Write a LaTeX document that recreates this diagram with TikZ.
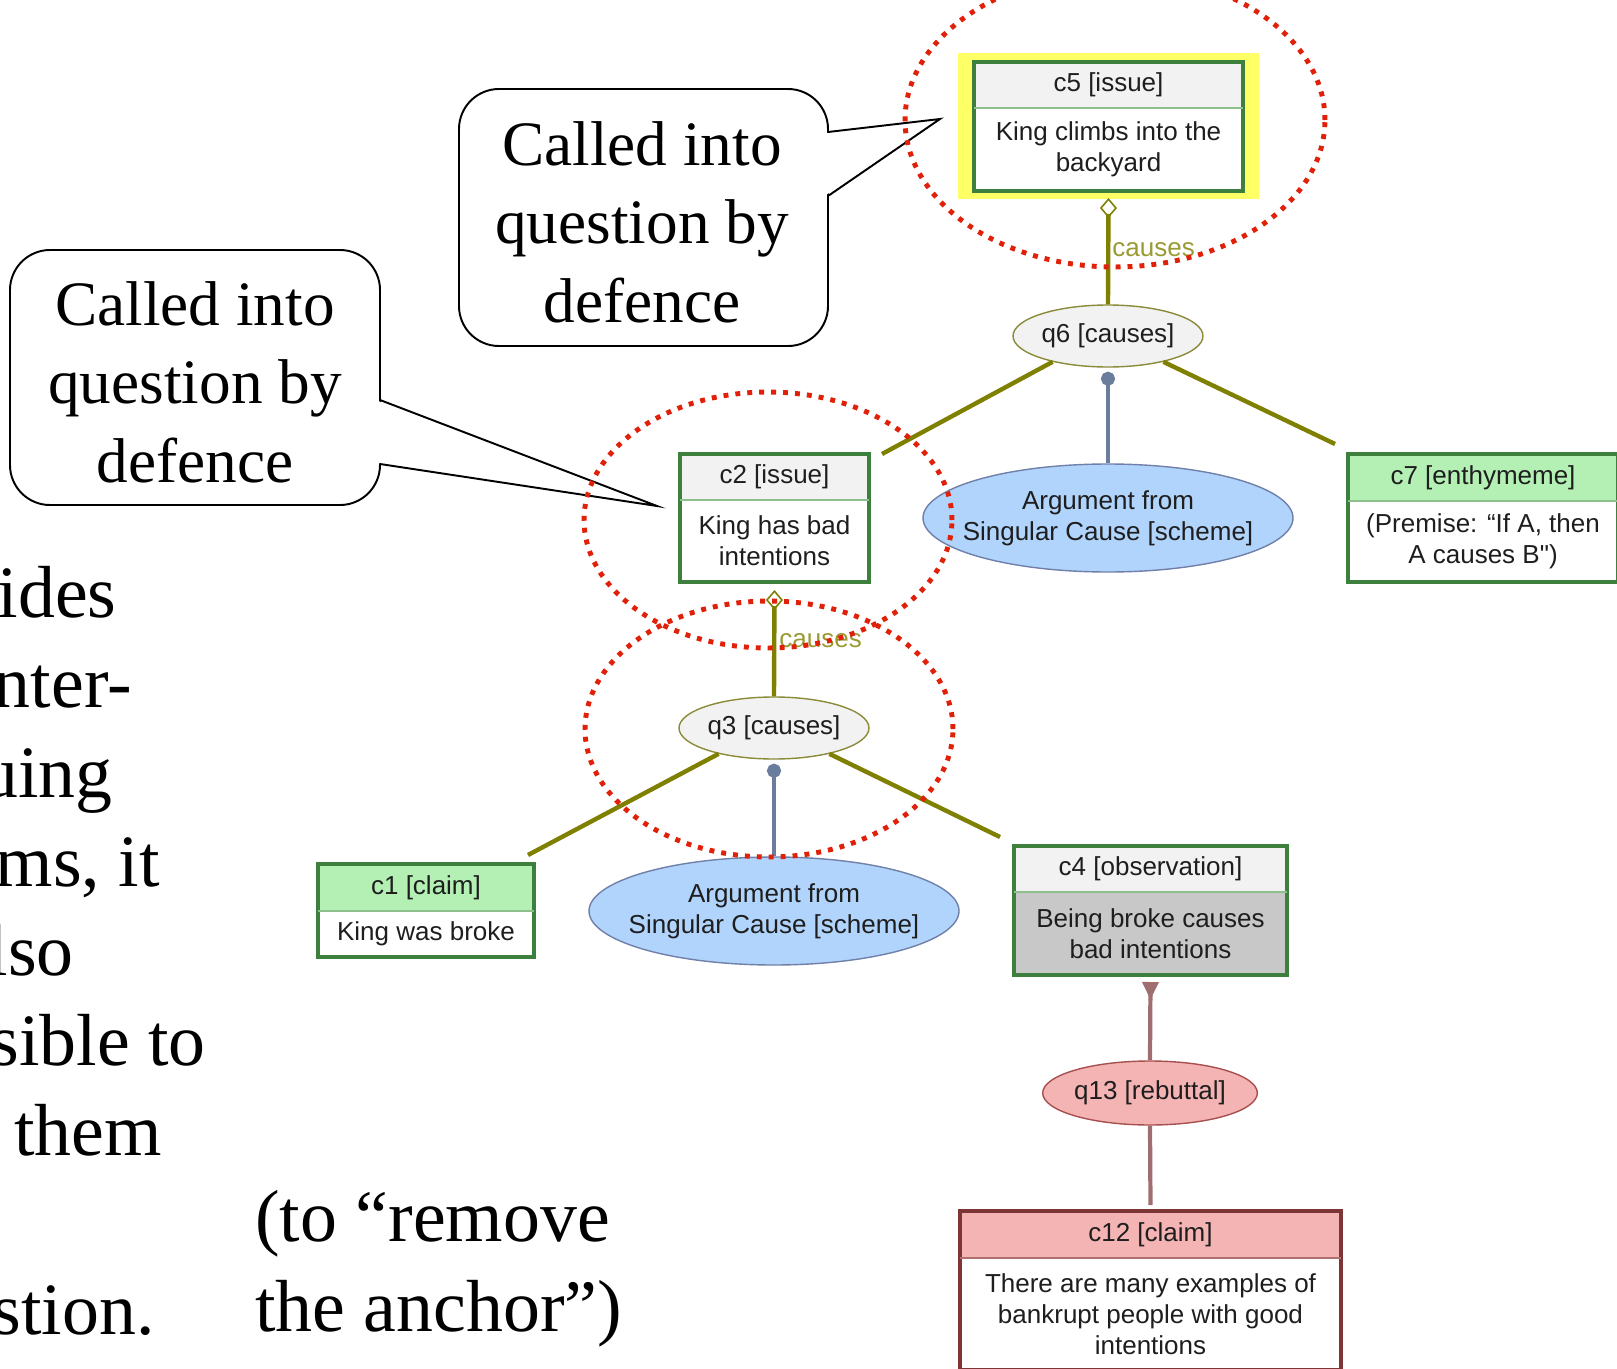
\documentclass[tikz,border=0pt]{standalone}
\usepackage{fontspec}
\setmainfont{Liberation Serif}
\newfontfamily\diagfont{Liberation Sans}
\usetikzlibrary{shapes.geometric,arrows.meta,calc,fit,backgrounds}

\definecolor{olivec}{HTML}{7F7F00}
\definecolor{causec}{HTML}{9A9A33}
\definecolor{framegreen}{HTML}{3D7F3D}
\definecolor{divgreen}{HTML}{8CBF8C}
\definecolor{hdrgray}{HTML}{F2F2F2}
\definecolor{bodygray}{HTML}{C8C8C8}
\definecolor{claimgreen}{HTML}{B4F0B4}
\definecolor{qedge}{HTML}{8B8B3A}
\definecolor{schemeblue}{HTML}{B0D4FC}
\definecolor{schemeline}{HTML}{7080A8}
\definecolor{linkblue}{HTML}{6A7D9C}
\definecolor{rebfill}{HTML}{F4B4B4}
\definecolor{rebline}{HTML}{A06E6E}
\definecolor{rebframe}{HTML}{7D3535}
\definecolor{rebedge}{HTML}{A85050}
\definecolor{rebdiv}{HTML}{B07070}
\definecolor{hilite}{HTML}{FFFF66}
\definecolor{dotred}{HTML}{E02008}
\definecolor{inkc}{HTML}{1E1E1E}

% one drawing unit = one pixel of the slide
\def\pxu{0.02cm}

\begin{document}
\begin{tikzpicture}[x=0.02cm, y=-0.02cm,
  diag/.style={font=\diagfont\fontsize{14.8}{17.6}\selectfont, text=inkc},
  part/.style={diag, inner sep=0pt, outer sep=0pt, align=center, anchor=north},
  boxframe/.style={draw=#1, line width=2pt, inner sep=0pt, outer sep=0pt},
  divline/.style={draw=#1, line width=0.9pt},
  qnode/.style={diag, ellipse, draw=qedge, line width=0.8pt, fill=hdrgray,
    inner sep=0pt, minimum width=190*\pxu, minimum height=62*\pxu},
  scheme/.style={diag, ellipse, draw=schemeline, line width=0.8pt, fill=schemeblue,
    inner xsep=-24*\pxu, inner ysep=0pt, minimum width=370*\pxu,
    minimum height=108*\pxu, align=center},
  rebnode/.style={diag, ellipse, draw=rebedge, line width=0.8pt, fill=rebfill,
    inner sep=0pt, minimum width=210*\pxu, minimum height=64*\pxu},
  oliveconn/.style={draw=olivec, line width=2.5pt},
  anchormark/.style={{Diamond[open, length=11.4pt, width=9.7pt, line width=0.9pt]}-},
  causelbl/.style={diag, text=causec, inner sep=0pt, anchor=west},
  blueconn/.style={draw=linkblue, line width=2.3pt, -{Circle[length=8pt, width=8pt]}},
  rebconn/.style={draw=rebline, line width=2.4pt},
  reddot/.style={draw=dotred, line width=2.8pt, dash pattern=on 2.8pt off 4pt},
  slide/.style={font=\fontsize{42}{50}\selectfont, inner sep=0pt, text=black},
  calltext/.style={font=\fontsize{36}{44.7}\selectfont, align=center, inner sep=0pt},
  callline/.style={draw=black, line width=1.1pt},
]
\useasboundingbox (0,0) rectangle (1617,1369);

% ---- slide text on the left ----
\node[slide, anchor=base east] (t1) at (117,617) {ides};
\node[slide, anchor=base east] (t2) at (132,707) {nter-};
\node[slide, anchor=base east] (t3) at (113,797) {uing};
\node[slide, anchor=base east] (t4) at (160,886) {ms, it};
\node[slide, anchor=base east] (t5) at (74,975) {lso};
\node[slide, anchor=base east] (t6) at (206,1065) {sible to};
\node[slide, anchor=base east] (t7) at (162,1155) {them};
\node[slide, anchor=base east] (t8) at (155,1334) {stion.};
\node[slide, anchor=base west] (u1) at (255,1241) {(to “remove};
\node[slide, anchor=base west] (u2) at (255,1331) {the anchor”)};

% ---- argument boxes ----
% c5
\node[part, fill=hdrgray, minimum width=269*\pxu, minimum height=46*\pxu] (c5h) at (1108.5,62) {c5 [issue]};
\node[part, fill=white, minimum width=269*\pxu, minimum height=83*\pxu] (c5b) at (c5h.south) {King climbs into the\\backyard};
\node[boxframe=framegreen, fit=(c5h)(c5b)] (c5) {};
\draw[divline=divgreen] (c5h.south west) -- (c5h.south east);
% c2
\node[part, fill=hdrgray, minimum width=189*\pxu, minimum height=46*\pxu] (c2h) at (774.5,454) {c2 [issue]};
\node[part, fill=white, minimum width=189*\pxu, minimum height=82*\pxu] (c2b) at (c2h.south) {King has bad\\intentions};
\node[boxframe=framegreen, fit=(c2h)(c2b)] (c2) {};
\draw[divline=divgreen] (c2h.south west) -- (c2h.south east);
% c7
\node[part, fill=claimgreen, minimum width=270*\pxu, minimum height=47*\pxu] (c7h) at (1483,454) {c7 [enthymeme]};
\node[part, fill=white, minimum width=270*\pxu, minimum height=81*\pxu] (c7b) at (c7h.south) {(Premise: “If A, then\\A causes B")};
\node[boxframe=framegreen, fit=(c7h)(c7b)] (c7) {};
\draw[divline=divgreen] (c7h.south west) -- (c7h.south east);
% c1
\node[part, fill=claimgreen, minimum width=216*\pxu, minimum height=47*\pxu] (c1h) at (426,864) {c1 [claim]};
\node[part, fill=white, minimum width=216*\pxu, minimum height=46*\pxu] (c1b) at (c1h.south) {King was broke};
\node[boxframe=framegreen, fit=(c1h)(c1b)] (c1) {};
\draw[divline=divgreen] (c1h.south west) -- (c1h.south east);
% c4
\node[part, fill=hdrgray, minimum width=273*\pxu, minimum height=46*\pxu] (c4h) at (1150.5,846) {c4 [observation]};
\node[part, fill=bodygray, minimum width=273*\pxu, minimum height=83*\pxu] (c4b) at (c4h.south) {Being broke causes\\bad intentions};
\node[boxframe=framegreen, fit=(c4h)(c4b)] (c4) {};
\draw[divline=divgreen] (c4h.south west) -- (c4h.south east);
% c12
\node[part, fill=rebfill, minimum width=381*\pxu, minimum height=47*\pxu] (c12h) at (1150.5,1211) {c12 [claim]};
\node[part, fill=white, minimum width=381*\pxu, minimum height=112*\pxu] (c12b) at (c12h.south) {There are many examples of\\bankrupt people with good\\intentions};
\node[boxframe=rebframe, fit=(c12h)(c12b)] (c12) {};
\draw[divline=rebdiv] (c12h.south west) -- (c12h.south east);

% highlight behind the issue under discussion
\begin{pgfonlayer}{background}
  \fill[hilite] ($(c5.north west)+(-16,-9)$) rectangle ($(c5.south east)+(16,8)$);
\end{pgfonlayer}

% ---- inference nodes and schemes ----
\node[qnode] (q6) at (1108,336) {q6 [causes]};
\node[qnode] (q3) at (774,728) {q3 [causes]};
\node[scheme] (s1) at (1108,518) {Argument from\\Singular Cause [scheme]};
\node[scheme] (s2) at (774,911) {Argument from\\Singular Cause [scheme]};
\node[rebnode] (q13) at (1150,1093) {q13 [rebuttal]};

% ---- connectors ----
\draw[oliveconn, anchormark] ($(c5.south)+(0,7)$) -- (q6.north)
  node[causelbl, pos=0.49, xshift=2*\pxu] {causes};
\draw[oliveconn, anchormark] ($(c2.south)+(0,8)$) -- (q3.north)
  node[causelbl, pos=0.48, xshift=3*\pxu] {causes};
\draw[oliveconn] (q6.205) -- ($(c2.north east)+(13,0)$);
\draw[oliveconn] (q6.335) -- ($(c7.north west)+(-13,-10)$);
\draw[oliveconn] (q3.205) -- ($(c1.north east)+(-6,-9)$);
\draw[oliveconn] (q3.335) -- ($(c4.north west)+(-14,-9)$);
\draw[blueconn] (s1.north) -- ($(q6.south)+(0,4)$);
\draw[blueconn] (s2.north) -- ($(q3.south)+(0,4)$);
\draw[rebconn, -{Triangle[reversed, length=10pt, width=9pt]}] (q13.north) -- ($(c4.south)+(0,7)$);
\draw[rebconn] (q13.south) -- ($(c12.north)+(0,-6)$);

% ---- callouts ----
\node[calltext] (cq1) at (195,382) {Called into\\question by\\defence};
\coordinate (tip1) at (657,506);
\draw[callline, rounded corners=0.8cm] (10,250) rectangle (380,505);
\fill[white] (378,401) -- (tip1) -- (378,463) -- cycle;
\draw[callline] (380,400) -- (tip1) -- (380,464);

\node[calltext] (cq2) at (642,222) {Called into\\question by\\defence};
\coordinate (tip2) at (940,119);
\draw[callline, rounded corners=0.8cm] (459,89) rectangle (828,346);
\fill[white] (826,133) -- (tip2) -- (826,195) -- cycle;
\draw[callline] (828,132) -- (tip2) -- (828,196);

% ---- dotted rings marking the questioned parts ----
\draw[reddot] (1115,120) ellipse [x radius=4.2cm, y radius=2.94cm];
\draw[reddot] (768,520) ellipse [x radius=3.68cm, y radius=2.56cm];
\draw[reddot] (769,729) ellipse [x radius=3.68cm, y radius=2.56cm];
\end{tikzpicture}
\end{document}
